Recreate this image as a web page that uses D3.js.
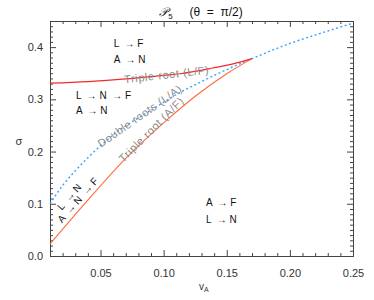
<!DOCTYPE html>
<html><head><meta charset="utf-8">
<script src="https://cdn.jsdelivr.net/npm/d3@7"></script>
<style>body{margin:0;background:#fff}svg{display:block}text{font-family:"Liberation Sans",Arial,sans-serif}</style>
</head><body>
<svg id="c" width="374" height="300"></svg>
<script>
// data
const xTicks = [0.05, 0.10, 0.15, 0.20, 0.25];
const yTicks = [0.0, 0.1, 0.2, 0.3, 0.4];
const tripleLF = [[0.01,0.331],[0.04,0.334],[0.07,0.339],[0.10,0.346],[0.113,0.349],[0.139,0.360],[0.155,0.368],[0.17,0.378]];
const tripleAF = [[0.01,0.023],[0.04,0.107],[0.07,0.187],[0.10,0.255],[0.13,0.315],[0.15,0.349],[0.17,0.378]];
const doubleLA = [[0.01,0.100],[0.02,0.135],[0.03,0.163],[0.045,0.200],[0.06,0.232],[0.09,0.279],[0.113,0.313],[0.13,0.334],[0.15,0.357],[0.17,0.378],[0.20,0.407],[0.225,0.427],[0.25,0.446]];

const svg = d3.select("#c");
const x = d3.scaleLinear([0.01,0.25],[50,353]);
const y = d3.scaleLinear([0,0.45],[256,21]);
const axisCol = "#444";

const xMinor = d3.range(1,26).map(i=>i/100).filter(v=>v>=0.01 && v<=0.25 && Math.round(v*100)%5!==0);
const yMinor = d3.range(0,46).map(i=>i/100).filter(v=>Math.round(v*100)%10!==0);

function style(g){ g.selectAll("path,line").attr("stroke",axisCol); g.select(".domain").attr("stroke",axisCol); g.selectAll("text").attr("fill","#333").attr("font-size",11).attr("font-family","Liberation Sans, Arial, sans-serif"); }

// bottom
svg.append("g").attr("transform","translate(0,256)").call(d3.axisBottom(x).tickValues(xTicks).tickSize(-6).tickSizeOuter(0).tickPadding(13).tickFormat(d3.format(".2f"))).call(style);
svg.append("g").attr("transform","translate(0,256)").call(d3.axisBottom(x).tickValues(xMinor).tickSize(-3).tickSizeOuter(0).tickFormat("")).call(style);
// top
svg.append("g").attr("transform","translate(0,21)").call(d3.axisTop(x).tickValues(xTicks).tickSize(-6).tickSizeOuter(0).tickFormat("")).call(style);
svg.append("g").attr("transform","translate(0,21)").call(d3.axisTop(x).tickValues(xMinor).tickSize(-3).tickSizeOuter(0).tickFormat("")).call(style);
// left
svg.append("g").attr("transform","translate(50,0)").call(d3.axisLeft(y).tickValues(yTicks).tickSize(-6).tickSizeOuter(0).tickPadding(7).tickFormat(d3.format(".1f"))).call(style);
svg.append("g").attr("transform","translate(50,0)").call(d3.axisLeft(y).tickValues(yMinor).tickSize(-3).tickSizeOuter(0).tickFormat("")).call(style);
// right
svg.append("g").attr("transform","translate(353,0)").call(d3.axisRight(y).tickValues(yTicks).tickSize(-6).tickSizeOuter(0).tickFormat("")).call(style);
svg.append("g").attr("transform","translate(353,0)").call(d3.axisRight(y).tickValues(yMinor).tickSize(-3).tickSizeOuter(0).tickFormat("")).call(style);

const line = d3.line().x(d=>x(d[0])).y(d=>y(d[1])).curve(d3.curveMonotoneX);
svg.append("path").attr("d",line(doubleLA)).attr("fill","none").attr("stroke","#3aa0ff").attr("stroke-width",1.4).attr("stroke-dasharray","2,2.5");
svg.append("path").attr("d",line(tripleAF)).attr("fill","none").attr("stroke","#ff6a3a").attr("stroke-width",1.1);
svg.append("path").attr("d",line(tripleLF)).attr("fill","none").attr("stroke","#f22a2a").attr("stroke-width",1.2);

// curve labels
function rlabel(px,py,ang,txt){
  svg.append("text").attr("transform",`translate(${x(px)},${y(py)}) rotate(${ang})`).attr("text-anchor","middle")
    .attr("font-size",11).attr("letter-spacing",0.6).attr("fill","#8a8a8a").text(txt);
}
rlabel(0.1027,0.340,-6.5,"Triple root (L/F)");
rlabel(0.0829,0.262,-35,"Double roots (L/A)");
rlabel(0.0924,0.237,-45,"Triple root (A/F)");

// region labels
function reg(px,py,txt,ang){
  const t = svg.append("text").attr("font-size",10).attr("fill","#111").attr("xml:space","preserve");
  if(ang) t.attr("transform",`translate(${x(px)},${y(py)}) rotate(${ang})`); else t.attr("x",x(px)).attr("y",y(py));
  t.text(txt);
}
reg(0.0605,0.400,"L  \u2192 F");
reg(0.0605,0.370,"A  \u2192 N");
reg(0.0305,0.301,"L  \u2192 N  \u2192 F");
reg(0.0305,0.272,"A  \u2192 N");
reg(0.1335,0.095,"A  \u2192 F");
reg(0.1335,0.064,"L  \u2192 N");
reg(0.0195,0.062,"A  \u2192 N  \u2192 F",-49);
reg(0.0194,0.0868,"L  \u2192 N",-49);

// titles
const tt = svg.append("text").attr("x",201).attr("y",16).attr("text-anchor","middle").attr("font-size",12).attr("fill","#111").attr("xml:space","preserve");
tt.append("tspan").attr("font-style","italic").attr("font-family","DejaVu Serif, serif").text("\uD835\uDCAB");
tt.append("tspan").attr("font-size",8).attr("dy",3).text("5");
tt.append("tspan").attr("dy",-3).text("     (\u03B8  =  \u03C0/2)");

const xl = svg.append("text").attr("x",199).attr("y",290).attr("font-size",10).attr("fill","#333");
xl.append("tspan").text("v");
xl.append("tspan").attr("font-size",7).attr("dy",2).text("A");
svg.append("text").attr("x",19).attr("y",145).attr("text-anchor","middle").attr("font-size",11).attr("fill","#333").text("\u03C3");
</script>
</body></html>
